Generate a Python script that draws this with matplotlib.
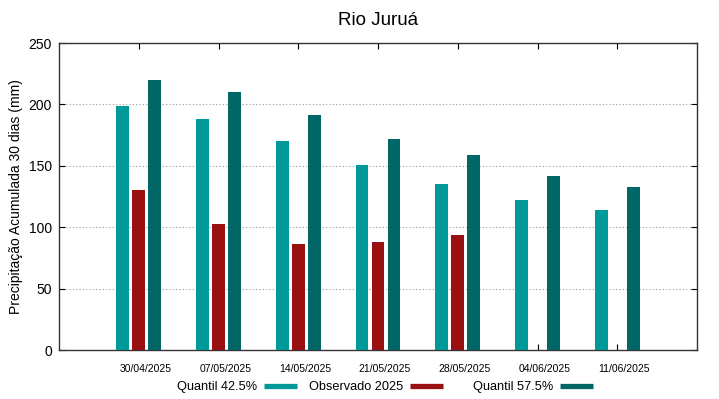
import matplotlib
matplotlib.use("Agg")
import matplotlib.pyplot as plt
import matplotlib.transforms as mtransforms
import numpy as np
from matplotlib.lines import Line2D

plt.rcParams['font.family'] = ['Liberation Sans', 'DejaVu Sans']

dates = ["30/04/2025", "07/05/2025", "14/05/2025", "21/05/2025",
         "28/05/2025", "04/06/2025", "11/06/2025"]
q425 = [199, 188, 170, 150.5, 135.5, 122.5, 114]
obs2025 = [130, 102.5, 86, 88, 93.5, np.nan, np.nan]
q575 = [220, 210, 191, 172, 159, 141.5, 132.5]

c_q425 = "#009999"
c_obs = "#991010"
c_q575 = "#006666"

fig = plt.figure(figsize=(7.19, 3.99), dpi=100)
ax = fig.add_axes([0.0821, 0.1228, 0.8873, 0.7694])

x = np.arange(len(dates))
w = 0.16
off = 0.2
ax.bar(x - off, q425, w, color=c_q425, zorder=3)
ax.bar(x, obs2025, w, color=c_obs, zorder=3)
ax.bar(x + off, q575, w, color=c_q575, zorder=3)

ax.set_xlim(-1, 7)
ax.set_ylim(0, 250)
ax.set_yticks([0, 50, 100, 150, 200, 250])
ax.set_xticks(x)
ax.set_xticklabels(dates, fontsize=7.5)
ax.tick_params(axis='x', direction='in', top=True, length=4, pad=10)
ax.tick_params(axis='y', direction='in', right=True, length=4, labelsize=10, pad=5)
# labels sit a little right of their ticks in the original
shift = mtransforms.ScaledTranslation(0.07, 0, fig.dpi_scale_trans)
for lbl in ax.get_xticklabels():
    lbl.set_transform(lbl.get_transform() + shift)

for gy in [50, 100, 150, 200]:
    ax.axhline(gy, color="#999999", lw=0.8, ls=(0, (1, 2)), zorder=1)
for s in ax.spines.values():
    s.set_color("#333333")
    s.set_linewidth(1)

ax.set_ylabel("Precipitação Acumulada 30 dias (mm)", fontsize=10, labelpad=4)
ax.set_title("Rio Juruá", fontsize=13.5, pad=13)

# gnuplot-style key: text first, sample after, uneven spacing
labels = ["Quantil 42.5%", "Observado 2025", "Quantil 57.5%"]
colors = [c_q425, c_obs, c_q575]
key_x = [0.2462, 0.4298, 0.6578]
for lab, c, kx in zip(labels, colors, key_x):
    h = Line2D([], [], color=c, lw=3.8, solid_capstyle="butt")
    fig.legend([h], [lab], loc="center left", bbox_to_anchor=(kx, 0.03),
               frameon=False, markerfirst=False, fontsize=9.2,
               handlelength=2.58, handletextpad=0.55,
               borderpad=0, borderaxespad=0)

fig.savefig("out.png", dpi=100)
